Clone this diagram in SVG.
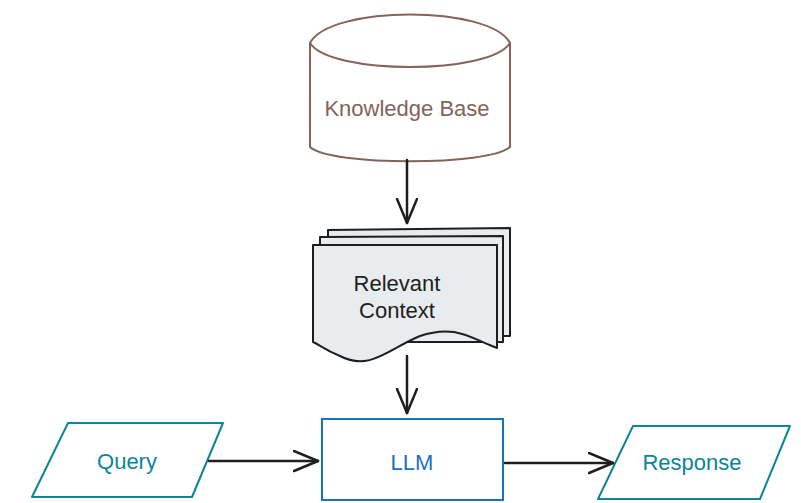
<svg xmlns="http://www.w3.org/2000/svg" width="801" height="503" viewBox="0 0 801 503">
<style>
  .lbl { font-family: "Liberation Sans", "DejaVu Sans", sans-serif; font-size: 22px; text-anchor: middle; dominant-baseline: central; }
  .kb { fill: none; stroke: #846358; stroke-width: 2; stroke-linejoin: round; stroke-linecap: round; }
  .doc { fill: #e9ecef; stroke: #1e1e1e; stroke-width: 2; stroke-linejoin: round; }
  .io { fill: none; stroke: #0c8599; stroke-width: 2; stroke-linejoin: round; }
  .llm { fill: none; stroke: #1971c2; stroke-width: 2; }
  .conn { fill: none; stroke: #1e1e1e; stroke-width: 2.5; stroke-linecap: round; }
</style>
<defs>
  <marker id="arrow" markerUnits="userSpaceOnUse" markerWidth="30" markerHeight="26" refX="25" refY="11" orient="auto">
    <path d="M1,1 L25,11 L1,21" fill="none" stroke="#1e1e1e" stroke-width="2.5" stroke-linecap="round" stroke-linejoin="round"/>
  </marker>
</defs>
<rect width="801" height="503" fill="#ffffff"/>

<g id="knowledge-base">
  <path class="kb" d="M310,43 C330,5 490,5 510,43 L510,147 C490,166 330,166 310,147 Z"/>
  <path class="kb" d="M310,43 C330,75 490,75 510,43"/>
  <text class="lbl" x="407" y="108" fill="#846358">Knowledge Base</text>
</g>

<g id="relevant-context">
  <path class="doc" d="M328,230 L510,228 L510,336 L328,336 Z"/>
  <path class="doc" d="M320,237 L503,236 L503,342 L320,342 Z"/>
  <path class="doc" d="M313,245 L497,245 L497,348 C470,338 455,324 420,336 C390,348 370,372 340,356 C325,350 318,344 313,342 Z"/>
  <text class="lbl" x="397" y="283" fill="#1e1e1e">Relevant</text>
  <text class="lbl" x="397" y="310" fill="#1e1e1e">Context</text>
</g>

<g id="query">
  <polygon class="io" points="68,423 223,423 192,497 32,497"/>
  <text class="lbl" x="127" y="461" fill="#0c8599">Query</text>
</g>

<g id="llm">
  <rect class="llm" x="322" y="419" width="181" height="81"/>
  <text class="lbl" x="412" y="462" fill="#1971c2">LLM</text>
</g>

<g id="response">
  <polygon class="io" points="633,426 790,426 760,499 598,499"/>
  <text class="lbl" x="692" y="462" fill="#0c8599">Response</text>
</g>

<g id="connectors">
  <path class="conn" d="M407,160 L407,223" marker-end="url(#arrow)"/>
  <path class="conn" d="M407,356 L407,413" marker-end="url(#arrow)"/>
  <path class="conn" d="M209,461 L318,461" marker-end="url(#arrow)"/>
  <path class="conn" d="M505,463 L613,463" marker-end="url(#arrow)"/>
</g>
</svg>
